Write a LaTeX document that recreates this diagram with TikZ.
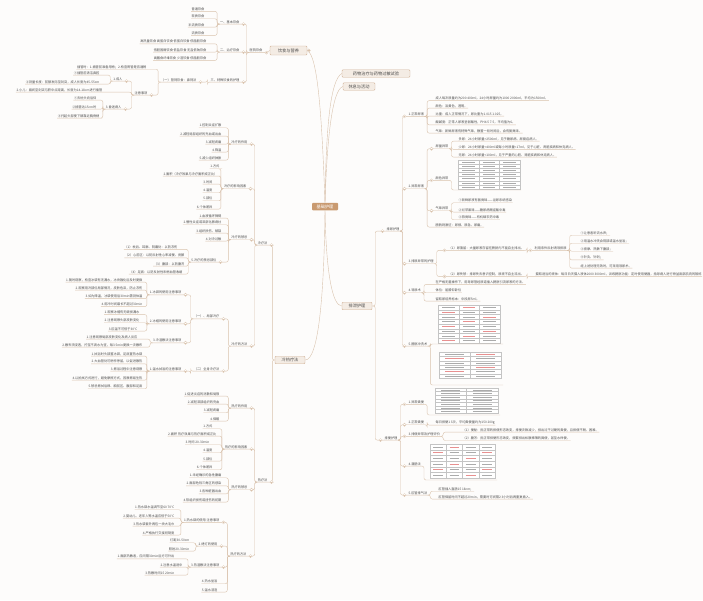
\documentclass[tikz,border=0pt]{standalone}
\usepackage{fontspec}
\newfontfamily\cjk{Noto Sans CJK SC}
\definecolor{lk}{HTML}{D9C2AC}
\definecolor{txt}{HTML}{4D4D4D}
\definecolor{bxf}{HTML}{F4ECE4}
\definecolor{bxd}{HTML}{D2B49A}
\definecolor{cen}{HTML}{C99A70}
\definecolor{bg}{HTML}{FDFCFB}
\definecolor{tg}{HTML}{C4C4C4}
\definecolor{tc}{HTML}{ABABAB}
\definecolor{tr}{HTML}{E89090}
\tikzset{
 t/.style={font=\cjk\fontsize{3.2}{3.6}\selectfont, text=txt, inner sep=0.6pt, outer sep=0pt},
 L/.style={t, anchor=east},
 R/.style={t, anchor=west},
 lnk/.style={draw=lk, line width=0.4pt, rounded corners=2pt},
 box/.style={draw=bxd, fill=bxf, rounded corners=1pt, font=\cjk\fontsize{4.2}{5}\selectfont, text=txt, inner xsep=2pt, inner ysep=1.5pt},
 cenbox/.style={fill=cen, rounded corners=1pt, font=\cjk\fontsize{4.2}{5}\selectfont, text=white, minimum width=26pt, minimum height=7.5pt, inner sep=1pt},
 tog/.style={circle, draw=lk, fill=white, line width=0.3pt, minimum size=3.2pt, inner sep=0pt,
   path picture={\draw[lk,line width=0.3pt] ([xshift=-0.9pt]path picture bounding box.center) -- ([xshift=0.9pt]path picture bounding box.center);}},
 tbl/.style={draw=tg, fill=white, line width=0.3pt},
}
\newcommand\LK[2]{\draw[lnk] (#1.south west) -- ++(-2.5,0) |- (#2.south east) -- (#2.south west);}
\newcommand\LKc[2]{\draw[lnk] (#1.south west) -- ++(-2.5,0) |- ([xshift=3.5pt]#2.south east) -- (#2.south west); \node[tog] at ([xshift=3.5pt]#2.south east) {};}
\newcommand\RK[2]{\draw[lnk] (#1.south east) -- ++(2.5,0) |- (#2.south west) -- (#2.south east);}
\newcommand\RKc[2]{\draw[lnk] (#1.south east) -- ++(2.5,0) |- ([xshift=-3.5pt]#2.south west) -- (#2.south east); \node[tog] at ([xshift=-3.5pt]#2.south west) {};}
\newcommand\Tbl[7]{%
 \draw[tbl] (#1,#2) rectangle ++(#3,#4);
 \foreach \i in {1,...,#5}{\draw[tg,line width=0.2pt] (#1,#2+\i*#4/#5) -- ++(#3,0);}
 \foreach \j in {1,...,#6}{\draw[tg,line width=0.2pt] (#1+\j*#3/#6,#2) -- ++(0,#4);}
 \foreach \i in {1,...,#5}{\foreach \j in {1,...,#6}{%
   \pgfmathsetmacro\cx{#1+(\j-0.5)*#3/#6}\pgfmathsetmacro\cy{#2+(\i-0.5)*#4/#5}%
   \pgfmathsetmacro\hw{0.3*#3/#6}%
   \pgfmathtruncatemacro\odd{mod(\i+\j,3)}%
   \ifnum\odd=0\relax\def\cc{#7}\else\def\cc{tc}\fi
   \draw[\cc,line width=0.3pt] (\cx-\hw,\cy) -- (\cx+\hw,\cy);}}
}
\begin{document}
\begin{tikzpicture}[x=1pt,y=-1pt]
\fill[bg] (0,0) rectangle (703,600);
\useasboundingbox (0,0) rectangle (703,600);

% ===== central and main branches =====
\node[cenbox] (c) at (325,206.5) {基础护理};
\node[box, minimum width=37pt, minimum height=9pt] (ys) at (288.5,50.5) {饮食与营养};
\node[box, minimum width=68pt, minimum height=7.5pt] (yw) at (376,73.5) {药物治疗与药物过敏试验};
\node[box, minimum width=32pt, minimum height=7.5pt] (xx) at (359,86.5) {休息与活动};
\node[box, minimum width=30pt, minimum height=7.5pt] (px) at (357,306) {排泄护理};
\node[box, minimum width=30pt, minimum height=7.5pt] (lr) at (290,360) {冷热疗法};

\draw[lnk] (c.north) .. controls (322,120) and (318,55) .. (ys.east);
\draw[lnk] (c.north) .. controls (326,130) and (330,80) .. (yw.west);
\draw[lnk] (c.north) .. controls (327,140) and (332,90) .. (xx.west);
\draw[lnk] (c.south) .. controls (326,270) and (332,306) .. (px.west);
\draw[lnk] (c.south) .. controls (324,300) and (318,360) .. (lr.east);
\node[tog] at ([xshift=1.5pt]ys.east) {};

% ===== 饮食与营养 =====
\node[L] (yy) at (263,50.5) {医院饮食};
\draw[lnk] (ys.west) -- ([xshift=3.5pt]yy.south east) -- (yy.south west); \node[tog] at ([xshift=3.5pt]yy.south east) {};
\node[L] (jb) at (240,22) {一、基本饮食};
\node[L] (zl) at (240,50) {二、治疗饮食};
\node[L] (ts) at (240,80) {三、特殊饮食的护理};
\LKc{yy}{jb}\LKc{yy}{zl}\LKc{yy}{ts}
\node[L] (jb1) at (205,9.3) {普通饮食};
\node[L] (jb2) at (205,16.7) {软质饮食};
\node[L] (jb3) at (205,25) {半流质饮食};
\node[L] (jb4) at (205,33.3) {流质饮食};
\LK{jb}{jb1}\LK{jb}{jb2}\LK{jb}{jb3}\LK{jb}{jb4}
\node[L] (zl1) at (207,41.7) {高热量饮食 高蛋白饮食 低蛋白饮食 低脂肪饮食};
\node[L] (zl2) at (207,50) {低胆固醇饮食 低盐饮食 无盐低钠饮食};
\node[L] (zl3) at (207,58.3) {高膳食纤维饮食 少渣饮食 低脂肪饮食};
\LK{zl}{zl1}\LK{zl}{zl2}\LK{zl}{zl3}
\node[L] (gs) at (197,80) {（一）管饲饮食：鼻饲法};
\LKc{ts}{gs}
\node[L] (gs1) at (147,67) {插管时：1.插管前准备用物；2.检查胃管是否通畅};
\node[L] (zy) at (148,93) {注意事项};
\LK{gs}{gs1}\LKc{gs}{zy}
\node[L] (cr) at (123,79) {1.成人};
\node[L] (xe) at (103,90) {2.小儿：眉间至剑突与脐中点距离，长度为14-18cm进行插管};
\node[L] (hm) at (122,107) {3.昏迷病人};
\LKc{zy}{cr}\LK{zy}{xe}\LKc{zy}{hm}
\node[L] (cr1) at (100,73) {①插管前清洁鼻腔};
\node[L] (cr2) at (100,82) {②测量长度：前额发际至剑突，成人长度为45-55cm};
\LK{cr}{cr1}\LK{cr}{cr2}
\node[L] (hm1) at (97,98) {①去枕头向后仰};
\node[L] (hm2) at (97,107) {②插管达15cm时};
\node[L] (hm3) at (100,116) {③托起头部使下颌靠近胸骨柄};
\LK{hm}{hm1}\LK{hm}{hm2}\LK{hm}{hm3}

% ===== 冷热疗法 =====
\node[L] (lf) at (268,243) {冷疗法};
\node[L] (rf) at (268,480) {热疗法};
\draw[lnk] (lr.west) -- ++(-2.5,0) |- ([xshift=3.5pt]lf.south east) -- (lf.south west); \node[tog] at ([xshift=3.5pt]lf.south east) {};
\draw[lnk] (lr.west) -- ++(-2.5,0) |- ([xshift=3.5pt]rf.south east) -- (rf.south west); \node[tog] at ([xshift=3.5pt]rf.south east) {};

\node[L] (lzy) at (248,142) {冷疗的作用};
\node[L] (lyx) at (247,186.7) {冷疗的影响因素};
\node[L] (ljj) at (248,237.7) {冷疗的禁忌};
\node[L] (lff) at (248,344) {冷疗的方法};
\LKc{lf}{lzy}\LKc{lf}{lyx}\LKc{lf}{ljj}\LKc{lf}{lff}
\node[L] (lzy1) at (222,125.7) {1.控制炎症扩散};
\node[L] (lzy2) at (222,134) {2.减轻局部组织的充血或出血};
\node[L] (lzy3) at (222,142) {3.减轻疼痛};
\node[L] (lzy4) at (222,150) {4.降温};
\node[L] (lzy5) at (222,158) {5.减少组织肿胀};
\LK{lzy}{lzy1}\LK{lzy}{lzy2}\LK{lzy}{lzy3}\LK{lzy}{lzy4}\LK{lzy}{lzy5}
\node[L] (lyx1) at (220,166.7) {1.方式};
\node[L] (lyx2) at (218,174) {2.面积（冷疗效果与冷疗面积成正比）};
\node[L] (lyx3) at (213,182) {3.时间};
\node[L] (lyx4) at (213,190.7) {4.温度};
\node[L] (lyx5) at (213,198.7) {5.部位};
\node[L] (lyx6) at (213,207) {6.个体差异};
\LK{lyx}{lyx1}\LK{lyx}{lyx2}\LK{lyx}{lyx3}\LK{lyx}{lyx4}\LK{lyx}{lyx5}\LK{lyx}{lyx6}
\node[L] (ljj1) at (222,216) {1.血液循环障碍};
\node[L] (ljj2) at (222,222.7) {2.慢性炎症或深部化脓病灶};
\node[L] (ljj3) at (222,231) {3.组织损伤、破裂};
\node[L] (ljj4) at (222,239) {4.对冷过敏};
\node[L] (ljj5) at (217,260) {5.冷疗的禁忌部位};
\LK{ljj}{ljj1}\LK{ljj}{ljj2}\LK{ljj}{ljj3}\LK{ljj}{ljj4}\LKc{ljj}{ljj5}
\node[L] (bw1) at (178,247.3) {（1）枕后、耳廓、阴囊处：以防冻伤};
\node[L] (bw2) at (185,255.7) {（2）心前区：以防反射性心率减慢、房颤};
\node[L] (bw3) at (185,264) {（3）腹部：以防腹泻};
\node[L] (bw4) at (183,272) {（4）足底：以防反射性末梢血管收缩};
\LK{ljj5}{bw1}\LK{ljj5}{bw2}\LK{ljj5}{bw3}\LK{ljj5}{bw4}
\node[L] (jb5) at (220,316.7) {（一）、局部冷疗};
\node[L] (qs) at (220,369) {（二）全身冷疗法};
\LKc{lff}{jb5}\LKc{lff}{qs}
\node[L] (bd) at (182,292.7) {1.冰袋的使用注意事项};
\node[L] (bm) at (182,321.7) {2.冰帽的使用注意事项};
\node[L] (ls) at (182,340.7) {3.冷湿敷法注意事项};
\LKc{jb5}{bd}\LKc{jb5}{bm}\LKc{jb5}{ls}
\node[L] (bd1) at (143,280) {1.随时观察，检查冰袋有无漏水，冰块融化后及时更换};
\node[L] (bd2) at (143,288) {2.观察用冷部位局部情况，皮肤色泽，防止冻伤};
\node[L] (bd3) at (143,296.5) {3.如为降温，冰袋使用后30min需测体温};
\node[L] (bd4) at (143,304.5) {4.用冷时间最长不超过30min};
\LK{bd}{bd1}\LK{bd}{bd2}\LK{bd}{bd3}\LK{bd}{bd4}
\node[L] (bm1) at (140,312.5) {1.观察冰帽有无破损漏水};
\node[L] (bm2) at (140,320.7) {2.注意观察头部皮肤变化};
\node[L] (bm3) at (138,329) {3.肛温不可低于30℃};
\LK{bm}{bm1}\LK{bm}{bm2}\LK{bm}{bm3}
\node[L] (ls1) at (138,337) {1.注意观察局部皮肤变化及病人反应};
\node[L] (ls2) at (143,345) {2.敷布须浸透，拧至不滴水为宜，每3~5min更换一次敷布};
\LK{ls}{ls1}\LK{ls}{ls2}
\node[L] (sy) at (182,369) {1.温水拭浴的注意事项};
\LKc{qs}{sy}
\node[L] (sy1) at (143,354) {1.拭浴时头部置冰袋，足底置热水袋};
\node[L] (sy2) at (143,361.7) {2.大血管处可稍作停留，以促进散热};
\node[L] (sy3) at (143,369) {3.擦浴过程中注意观察};
\node[L] (sy4) at (143,378) {4.以拍拭方式进行，避免摩擦方式，因摩擦易生热};
\node[L] (sy5) at (143,386.7) {5.禁忌擦拭后颈、胸前区、腹部和足底};
\LK{sy}{sy1}\LK{sy}{sy2}\LK{sy}{sy3}\LK{sy}{sy4}\LK{sy}{sy5}

\node[L] (rzy) at (248,406) {热疗的作用};
\node[L] (ryx) at (248,447) {热疗的影响因素};
\node[L] (rjj) at (248,487.7) {热疗的禁忌};
\node[L] (rff) at (247,554) {热疗的方法};
\LKc{rf}{rzy}\LKc{rf}{ryx}\LKc{rf}{rjj}\LKc{rf}{rff}
\node[L] (rzy1) at (220,394) {1.促进炎症的消散和局限};
\node[L] (rzy2) at (220,402) {2.减轻深部组织的充血};
\node[L] (rzy3) at (220,410.7) {3.减轻疼痛};
\node[L] (rzy4) at (220,419) {4.保暖};
\LK{rzy}{rzy1}\LK{rzy}{rzy2}\LK{rzy}{rzy3}\LK{rzy}{rzy4}
\node[L] (ryx1) at (213,426.7) {1.方式};
\node[L] (ryx2) at (217,434) {2.面积 热疗效果与热疗面积成正比};
\node[L] (ryx3) at (210,442.7) {3.时间 20-30min};
\node[L] (ryx4) at (213,450.7) {4.温度};
\node[L] (ryx5) at (213,459) {5.部位};
\node[L] (ryx6) at (213,467.7) {6.个体差异};
\LK{ryx}{ryx1}\LK{ryx}{ryx2}\LK{ryx}{ryx3}\LK{ryx}{ryx4}\LK{ryx}{ryx5}\LK{ryx}{ryx6}
\node[L] (rjj1) at (222,475.7) {1.未经确诊的急性腹痛};
\node[L] (rjj2) at (222,483.7) {2.面部危险三角区的感染};
\node[L] (rjj3) at (222,491.7) {3.各种脏器出血};
\node[L] (rjj4) at (222,500) {4.软组织损伤或扭伤的初期};
\LK{rjj}{rjj1}\LK{rjj}{rjj2}\LK{rjj}{rjj3}\LK{rjj}{rjj4}
\node[L] (rs) at (220,520.3) {1.热水袋的使用 注意事项};
\node[L] (kd) at (218,544) {2.烤灯的使用};
\node[L] (rsf) at (220,565) {3.热湿敷法注意事项};
\node[L] (zy4) at (218,581.7) {4.热水坐浴};
\node[L] (zy5) at (218,590) {5.温水浸泡};
\LKc{rff}{rs}\LKc{rff}{kd}\LKc{rff}{rsf}\LK{rff}{zy4}\LK{rff}{zy5}
\node[L] (rs1) at (175,507.7) {1.热水袋水温调节至60~70℃};
\node[L] (rs2) at (175,516) {2.婴幼儿、老年人等水温应低于50℃};
\node[L] (rs3) at (175,524) {3.热水袋套外再包一块大毛巾};
\node[L] (rs4) at (175,533) {4.严格执行交接班制度};
\LK{rs}{rs1}\LK{rs}{rs2}\LK{rs}{rs3}\LK{rs}{rs4}
\node[L] (kd1) at (190,540.7) {灯距30-50cm};
\node[L] (kd2) at (190,549) {照射20-30min};
\LK{kd}{kd1}\LK{kd}{kd2}
\node[L] (rsf1) at (175,556.7) {1.面部热敷者，应间隔30min后方可外出};
\node[L] (rsf2) at (183,565) {2.注意水温适中};
\node[L] (rsf3) at (175,573) {3.热敷时间15~20min};
\LK{rsf}{rsf1}\LK{rsf}{rsf2}\LK{rsf}{rsf3}

% ===== 排泄护理 =====
\node[R] (pn) at (386,229) {排尿护理};
\node[R] (pb) at (384,438) {排便护理};
\draw[lnk] (px.east) -- ++(3,0) |- ([xshift=-3.5pt]pn.south west) -- (pn.south east); \node[tog] at ([xshift=-3.5pt]pn.south west) {};
\draw[lnk] (px.east) -- ++(3,0) |- ([xshift=-3.5pt]pb.south west) -- (pb.south east); \node[tog] at ([xshift=-3.5pt]pb.south west) {};

\node[R] (zc) at (408,114.3) {1.正常尿液};
\node[R] (yc) at (408,186.7) {2.异常尿液};
\node[R] (yh) at (408,261.7) {3.排尿异常的护理};
\node[R] (dn) at (408,290.7) {4.导尿术};
\node[R] (pg) at (408,344) {5.膀胱冲洗术};
\RKc{pn}{zc}\RKc{pn}{yc}\RKc{pn}{yh}\RKc{pn}{dn}\RKc{pn}{pg}
\node[R] (zc1) at (435,98.5) {成人每次尿量约为200~400ml，24小时尿量约为1000~2000ml，平均为1500ml。};
\node[R] (zc2) at (435,106) {颜色：淡黄色，透明。};
\node[R] (zc3) at (435,114) {比重：成人正常情况下，尿比重为1.015~1.025。};
\node[R] (zc4) at (435,122.7) {酸碱度：正常人尿液呈弱酸性，PH4.5~7.5，平均值为6。};
\node[R] (zc5) at (435,131) {气味：新鲜尿液有特殊气味，静置一段时间后，会有氨臭味。};
\RK{zc}{zc1}\RK{zc}{zc2}\RK{zc}{zc3}\RK{zc}{zc4}\RK{zc}{zc5}
\node[R] (nl) at (435,146.7) {尿量异常};
\node[R] (ysy) at (435,178.3) {颜色异常};
\node[R] (qw) at (435,208.7) {气味异常};
\node[R] (pc) at (435,225) {膀胱刺激征：尿频、尿急、尿痛。};
\RKc{yc}{nl}\RKc{yc}{ysy}\RKc{yc}{qw}\RK{yc}{pc}
\node[R] (nl1) at (458,139) {多尿：24小时尿量>2500ml，见于糖尿病、尿崩症病人。};
\node[R] (nl2) at (458,147.3) {少尿：24小时尿量<400ml或每小时尿量<17ml，见于心脏、肾脏疾病和休克病人。};
\node[R] (nl3) at (458,155) {无尿：24小时尿量<100ml，见于严重的心脏、肾脏疾病和休克病人。};
\RK{nl}{nl1}\RK{nl}{nl2}\RK{nl}{nl3}
\coordinate (t1) at (457,190);
\Tbl{458}{160}{62}{29}{7}{3}{tc}
\draw[lnk] (ysy.south east) -- ++(2.5,0) |- (t1) -- ++(64,0);
\node[R] (qw1) at (458,200.7) {①新鲜尿液有氨臭味——泌尿系统感染};
\node[R] (qw2) at (458,210) {②烂苹果味——糖尿病酮症酸中毒};
\node[R] (qw3) at (458,217.7) {③蒜臭味——有机磷农药中毒};
\RK{qw}{qw1}\RK{qw}{qw2}\RK{qw}{qw3}
\node[R] (nz) at (448,248.3) {（1）尿潴留：大量尿液存留在膀胱内不能自主排出。};
\node[R] (ns) at (448,274.3) {（2）尿失禁：排尿失去意识控制，尿液不自主流出。};
\RKc{yh}{nz}\RKc{yh}{ns}
\node[R] (tj) at (534,248.3) {利用条件反射诱导排尿};
\RKc{nz}{tj}
\node[R] (tj1) at (580,233) {①让患者听流水声；};
\node[R] (tj2) at (580,241) {②用温水冲洗会阴部或温水坐浴；};
\node[R] (tj3) at (580,249) {③按摩、热敷下腹部；};
\node[R] (tj4) at (580,257.7) {④针灸、针刺；};
\node[R] (tj5) at (580,266) {经上述处理无效时，可采用导尿术。};
\RK{tj}{tj1}\RK{tj}{tj2}\RK{tj}{tj3}\RK{tj}{tj4}\RK{tj}{tj5}
\node[R] (ns1) at (535,274.3) {摄取适当的液体：每日白天摄入液体2000~3000ml，训练膀胱功能：定时使用便器，指导病人进行骨盆底部肌肉的锻炼};
\RK{ns}{ns1}
\node[R] (dn1) at (435,282.3) {在严格无菌操作下，用导尿管经尿道插入膀胱引流尿液的方法。};
\node[R] (dn2) at (435,290.7) {体位：屈膝仰卧位};
\node[R] (dn3) at (435,299) {留取尿培养标本：中段尿5ml。};
\RK{dn}{dn1}\RK{dn}{dn2}\RK{dn}{dn3}
\Tbl{438}{305}{62}{38}{8}{3}{tr}
\Tbl{439}{352}{62}{26}{6}{2}{tr}
\draw[lnk] (pg.south east) -- ++(2.5,0) |- (436,344) -- (503,344);
\draw[lnk] (pg.south east) -- ++(2.5,0) |- (436,385) -- (503,385);

\node[R] (yf) at (408,402.3) {1.异常粪便};
\node[R] (zf) at (408,422.7) {2.正常粪便};
\node[R] (pby) at (408,434.3) {3.排便异常及护理评价};
\node[R] (gc) at (408,464) {4.灌肠法};
\node[R] (gg) at (408,493) {5.肛管排气法};
\RKc{pb}{yf}\RKc{pb}{zf}\RKc{pb}{pby}\RKc{pb}{gc}\RKc{pb}{gg}
\Tbl{435}{388}{63}{25}{7}{2}{tc}
\draw[lnk] (yf.south east) -- ++(2.5,0) |- (432,415) -- (500,415);
\node[R] (zf1) at (435,422.7) {每日排便1~3次，平均粪便量约为150~200g};
\RK{zf}{zf1}
\node[R] (pby1) at (462,430) {（1）便秘：指正常的排便形态改变，排便次数减少，排出过干过硬的粪便，且排便不畅、困难。};
\node[R] (pby2) at (462,438.3) {（2）腹泻：指正常排便形态改变，频繁排出松散稀薄的粪便，甚至水样便。};
\RK{pby}{pby1}\RK{pby}{pby2}
\Tbl{430}{444}{65}{34}{6}{4}{tr}
\draw[lnk] (gc.south east) -- ++(2.5,0) |- (427,480) -- (497,480);
\node[R] (gg1) at (438,489) {肛管插入直肠15~18cm；};
\node[R] (gg2) at (438,497) {肛管保留时间不超过20min，需要时可间隔2~3小时后再重复插入。};
\RK{gg}{gg1}\RK{gg}{gg2}
\end{tikzpicture}
\end{document}
